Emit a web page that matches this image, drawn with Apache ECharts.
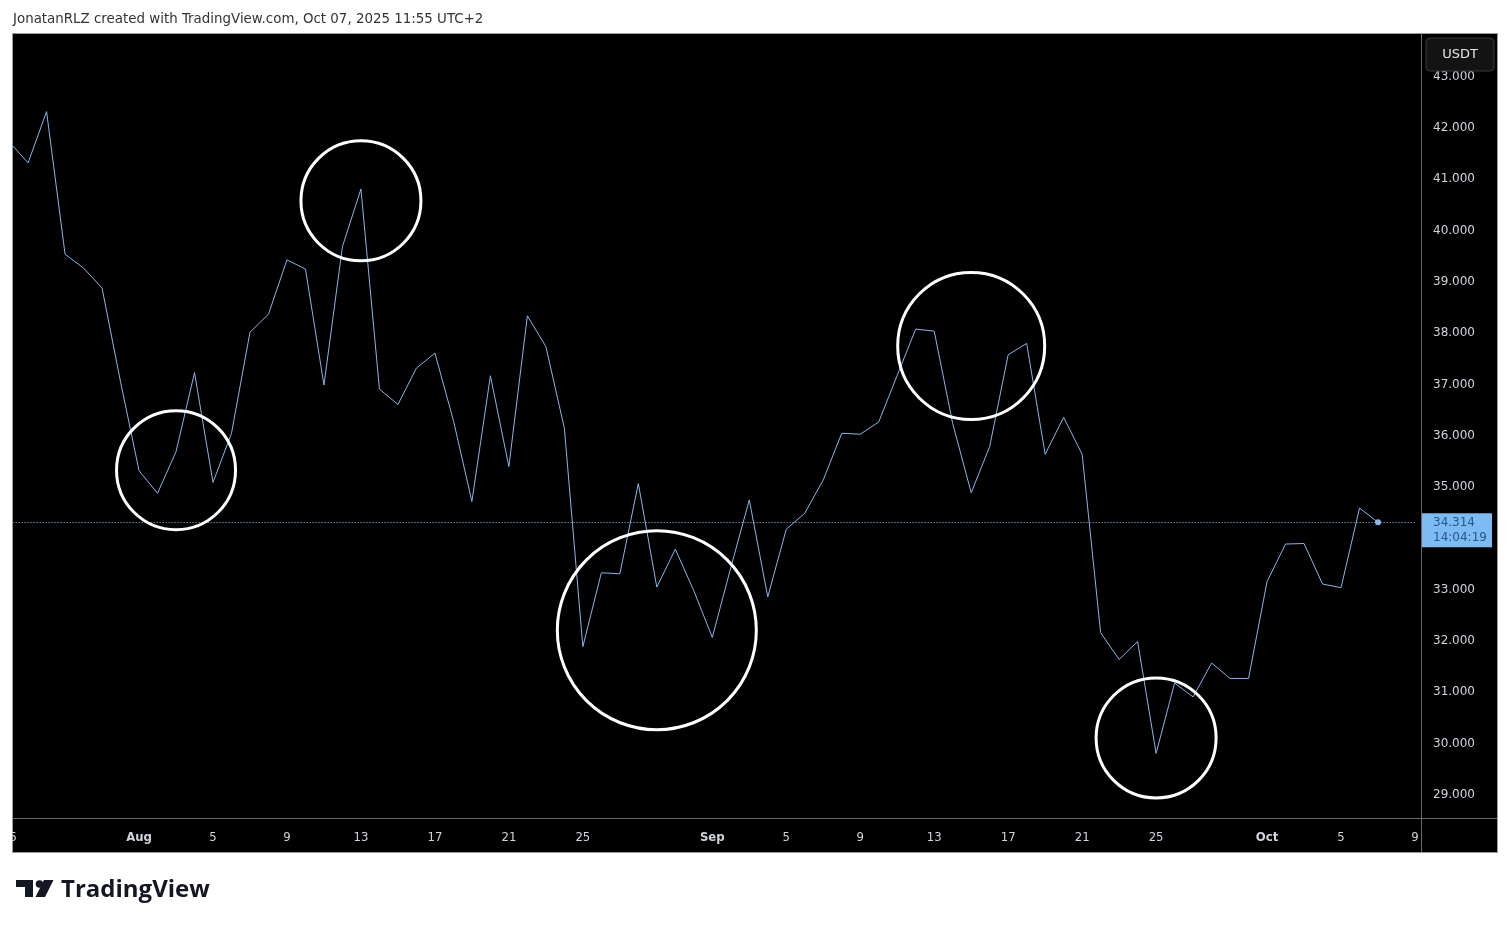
<!DOCTYPE html>
<html>
<head>
<meta charset="utf-8">
<script src="https://cdn.jsdelivr.net/npm/echarts@6/dist/echarts.min.js"></script>
<style>
html,body{margin:0;padding:0;background:#fff;}
#frame{position:absolute;left:12px;top:33px;width:1486px;height:820px;box-sizing:border-box;border:1px solid #9a9a9a;background:#000;}
#c{position:absolute;left:0;top:0;width:1511px;height:928px;}
</style>
</head>
<body>
<div id="frame"></div>
<div id="c"></div>
<script>
// ---- data ----
const dates = [
 '2025-07-25','2025-07-26','2025-07-27','2025-07-28','2025-07-29','2025-07-30','2025-07-31',
 '2025-08-01','2025-08-02','2025-08-03','2025-08-04','2025-08-05','2025-08-06','2025-08-07','2025-08-08',
 '2025-08-09','2025-08-10','2025-08-11','2025-08-12','2025-08-13','2025-08-14','2025-08-15','2025-08-16',
 '2025-08-17','2025-08-18','2025-08-19','2025-08-20','2025-08-21','2025-08-22','2025-08-23','2025-08-24',
 '2025-08-25','2025-08-26','2025-08-27','2025-08-28','2025-08-29','2025-08-30','2025-08-31',
 '2025-09-01','2025-09-02','2025-09-03','2025-09-04','2025-09-05','2025-09-06','2025-09-07','2025-09-08',
 '2025-09-09','2025-09-10','2025-09-11','2025-09-12','2025-09-13','2025-09-14','2025-09-15','2025-09-16',
 '2025-09-17','2025-09-18','2025-09-19','2025-09-20','2025-09-21','2025-09-22','2025-09-23','2025-09-24',
 '2025-09-25','2025-09-26','2025-09-27','2025-09-28','2025-09-29','2025-09-30',
 '2025-10-01','2025-10-02','2025-10-03','2025-10-04','2025-10-05','2025-10-06','2025-10-07','2025-10-08','2025-10-09'
];
const prices = [
 41.72, 41.32, 42.32, 39.54, 39.27, 38.88, 37.05,
 35.32, 34.88, 35.69, 37.23, 35.09, 36.05, 38.02, 38.37,
 39.43, 39.25, 36.99, 39.69, 40.81, 36.91, 36.61, 37.32,
 37.61, 36.30, 34.72, 37.17, 35.40, 38.34, 37.74, 36.15,
 31.89, 33.33, 33.31, 35.07, 33.05, 33.79, 32.98,
 32.07, 33.43, 34.75, 32.86, 34.18, 34.49, 35.14, 36.05,
 36.03, 36.27, 37.18, 38.08, 38.04, 36.24, 34.89, 35.79,
 37.58, 37.80, 35.64, 36.36, 35.64, 32.16, 31.64, 31.99,
 29.81, 31.18, 30.91, 31.57, 31.27, 31.27,
 33.16, 33.89, 33.90, 33.11, 33.04, 34.59, 34.314
];
const tickDates = [
 '2025-07-25','2025-08-01','2025-08-05','2025-08-09','2025-08-13','2025-08-17','2025-08-21','2025-08-25',
 '2025-09-01','2025-09-05','2025-09-09','2025-09-13','2025-09-17','2025-09-21','2025-09-25',
 '2025-10-01','2025-10-05','2025-10-09'
];
const monthNames = ['Jan','Feb','Mar','Apr','May','Jun','Jul','Aug','Sep','Oct','Nov','Dec'];
const circleCenters = [
 ['2025-08-03', 35.33],
 ['2025-08-13', 40.58],
 ['2025-08-29', 32.21],
 ['2025-09-15', 37.75],
 ['2025-09-25', 30.11]
];
const circleDiameters = [119, 120, 199, 147, 120];
const lastPrice = prices[prices.length - 1];
const lastTime = '14:04:19';
const headerText = 'JonatanRLZ created with TradingView.com, Oct 07, 2025 11:55 UTC+2';

// ---- chart ----
const chart = echarts.init(document.getElementById('c'), null, {renderer: 'canvas'});
const lineColor = '#86b6ea';
const tickSet = new Set(tickDates);

const option = {
  backgroundColor: 'transparent',
  animation: false,
  title: {
    text: headerText, left: 13, top: 13, padding: 0,
    textStyle: {fontFamily: 'DejaVu Sans', fontSize: 13.4, fontWeight: 'normal', color: '#333'}
  },
  grid: {left: 9.6, right: 96, top: 25.4, bottom: 81.8, containLabel: false, outerBoundsMode: 'none'},
  xAxis: {
    type: 'category', data: dates, boundaryGap: false, offset: -23,
    axisLine: {show: false}, axisTick: {show: false}, splitLine: {show: false},
    axisLabel: {
      interval: (i, v) => tickSet.has(v),
      showMinLabel: true, showMaxLabel: true,
      margin: 8,
      color: '#d1d4dc', fontFamily: 'DejaVu Sans Condensed', fontSize: 13,
      formatter: v => {
        const p = v.split('-');
        const d = parseInt(p[2], 10);
        return d === 1 ? '{b|' + monthNames[parseInt(p[1], 10) - 1] + '}' : String(d);
      },
      rich: {b: {fontWeight: 'bold', color: '#d1d4dc', fontFamily: 'DejaVu Sans Condensed', fontSize: 13}}
    }
  },
  yAxis: {
    type: 'value', position: 'right', min: 28, max: 44, interval: 1, scale: true,
    axisLine: {show: false}, axisTick: {show: false}, splitLine: {show: false},
    axisLabel: {
      margin: 18, color: '#d1d4dc', fontFamily: 'DejaVu Sans', fontSize: 12,
      padding: [8, 0, 0, 0],
      formatter: v => (v <= 28 || v >= 44) ? '' : v.toFixed(3)
    }
  },
  series: [
    {
      type: 'line', data: prices, showSymbol: false, symbol: 'none',
      lineStyle: {color: lineColor, width: 1}, z: 3,
      markLine: {
        silent: true, symbol: ['none', 'none'],
        lineStyle: {color: '#9cc3ee', type: [1, 2], width: 1},
        label: {show: false},
        data: [{yAxis: lastPrice}]
      }
    },
    {
      type: 'scatter', data: [[dates[prices.length - 1], lastPrice]],
      symbol: 'circle', symbolSize: 6, itemStyle: {color: lineColor, opacity: 1}, z: 4
    },
    {
      type: 'scatter', data: circleCenters, symbol: 'circle',
      symbolSize: (val, params) => circleDiameters[params.dataIndex],
      itemStyle: {color: 'rgba(0,0,0,0)', borderColor: '#ffffff', borderWidth: 3, opacity: 1}, z: 5
    }
  ]
};
chart.setOption(option);

const py = chart.convertToPixel({yAxisIndex: 0}, lastPrice);
chart.setOption({
  graphic: [
    {type: 'rect', shape: {x: 0, y: 30, width: 12, height: 830}, style: {fill: '#fff'}, z: 100},
    {type: 'line', shape: {x1: 1421.5, y1: 34, x2: 1421.5, y2: 852}, style: {stroke: '#6a6a6a', lineWidth: 1}, z: 10},
    {type: 'line', shape: {x1: 13, y1: 818.5, x2: 1497, y2: 818.5}, style: {stroke: '#6a6a6a', lineWidth: 1}, z: 10},
    {type: 'rect', shape: {x: 1426, y: 38, width: 68, height: 33, r: 4}, style: {fill: '#131313', stroke: '#3a3a3a', lineWidth: 1}, z: 20},
    {type: 'text', x: 1460, y: 55, style: {text: 'USDT', fill: '#e6e6e6', font: '13px "DejaVu Sans"', textAlign: 'center', textVerticalAlign: 'middle'}, z: 21},
    {type: 'rect', shape: {x: 1422, y: py - 9, width: 70, height: 34}, style: {fill: '#7dbbf3'}, z: 20},
    {type: 'text', x: 1433, y: py + 1, style: {text: lastPrice.toFixed(3), fill: '#27568c', font: '12px "DejaVu Sans"', textVerticalAlign: 'middle'}, z: 21},
    {type: 'text', x: 1433, y: py + 16, style: {text: lastTime, fill: '#27568c', font: '12px "DejaVu Sans"', textVerticalAlign: 'middle'}, z: 21},
    {type: 'polygon', shape: {points: [[16, 880], [33, 880], [33, 897], [25, 897], [25, 887], [16, 887]]}, style: {fill: '#131722'}, z: 20},
    {type: 'circle', shape: {cx: 39.5, cy: 884, r: 3.8}, style: {fill: '#131722'}, z: 20},
    {type: 'polygon', shape: {points: [[44, 880], [53.5, 880], [45, 897], [35.5, 897]]}, style: {fill: '#131722'}, z: 20},
    {type: 'text', x: 61, y: 890, style: {text: 'TradingView', fill: '#131722', font: 'bold 24px "Open Sans"', textVerticalAlign: 'middle'}, z: 20}
  ]
});
</script>
</body>
</html>
